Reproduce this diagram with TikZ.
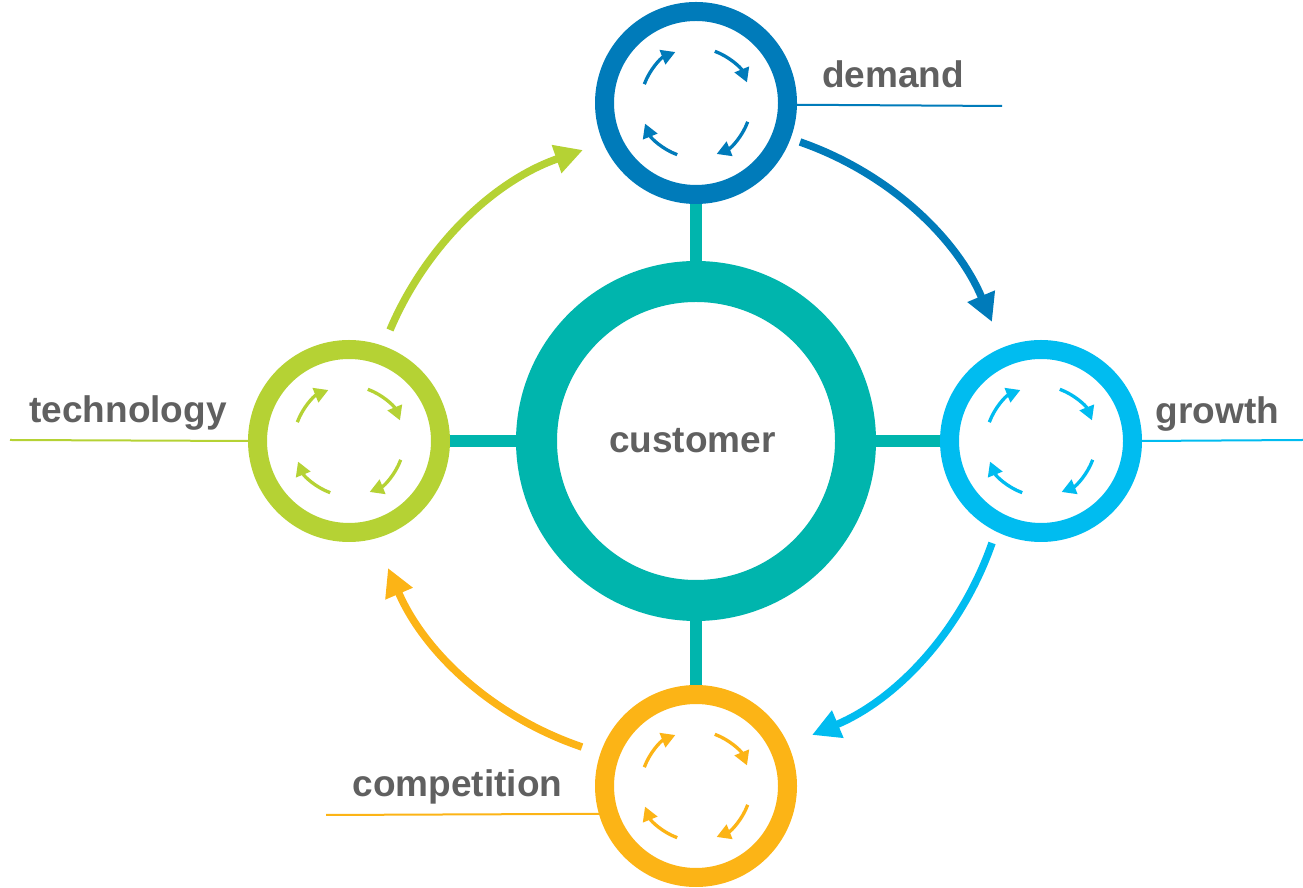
\documentclass[tikz,border=0pt]{standalone}
\usepackage{fontspec}
\setmainfont{Liberation Sans}
\usetikzlibrary{arrows.meta}
\definecolor{cblue}{RGB}{0,123,186}
\definecolor{ccyan}{RGB}{0,188,240}
\definecolor{cgreen}{RGB}{181,210,52}
\definecolor{corange}{RGB}{252,180,22}
\definecolor{cteal}{RGB}{0,181,173}
\definecolor{ctext}{RGB}{96,96,96}
\tikzset{
  sat/.style={circle, draw=#1, fill=white, line width=19pt, minimum size=183pt, inner sep=0pt},
  hub/.style={circle, draw=cteal, fill=white, line width=41pt, minimum size=319pt, inner sep=0pt},
  bar/.style={draw=cteal, line width=12pt},
  bigarrow/.style={draw=#1, line width=7.5pt, -{Triangle[length=28pt,width=28pt]}},
  smallarrow/.style={draw=#1, line width=3.3pt, -{Triangle[length=14pt,width=15pt]}},
  lbl/.style={anchor=base, text=ctext, font=\fontsize{37}{44}\selectfont\bfseries, inner sep=0pt},
  uline/.style={draw=#1, line width=2pt},
}
\begin{document}
\begin{tikzpicture}[x=1pt,y=1pt]
\useasboundingbox (0,0) rectangle (1303,888);
% nodes
\node[hub] (C) at (696,447) {};
\node[sat=cblue] (D) at (696,785) {};
\node[sat=ccyan] (G) at (1041,447) {};
\node[sat=cgreen] (T) at (349,447) {};
\node[sat=corange] (K) at (696,102) {};
% bars
\draw[bar] (C) -- (D);
\draw[bar] (C) -- (G);
\draw[bar] (C) -- (T);
\draw[bar] (C) -- (K);
% labels
\node[lbl] (lc) at (692.5,435) {customer};
\node[lbl] (ld) at (893,800) {demand};
\node[lbl] (lg) at (1217.5,464) {growth};
\node[lbl] (lt) at (128,465) {technology};
\node[lbl] (lk) at (457.5,91) {competition};
% underlines
\coordinate (ud) at (1002,782);
\coordinate (ug) at (1303,448);
\coordinate (ut) at (10,448);
\coordinate (uk) at (326,73);
\draw[uline=cblue] (D.-1.7) -- (ud);
\draw[uline=ccyan] (G.east) -- (ug);
\draw[uline=cgreen] (ut) -- (T.west);
\draw[uline=corange] (uk) -- (K.196.7);
% big arrows
\coordinate (b1) at (800,746); \coordinate (b2) at (992,566);
\coordinate (c1) at (992,345); \coordinate (c2) at (812,153);
\coordinate (o1) at (582,141); \coordinate (o2) at (388,320);
\coordinate (g1) at (390,558); \coordinate (g2) at (583,738);
\draw[bigarrow=cblue] (b1) to[bend left=24, looseness=0.9] (b2);
\draw[bigarrow=ccyan] (c1) to[bend left=24, looseness=0.9] (c2);
\draw[bigarrow=corange] (o1) to[bend left=24, looseness=0.9] (o2);
\draw[bigarrow=cgreen] (g1) to[bend left=24, looseness=0.9] (g2);
% small arrows
\foreach \n/\c in {D/cblue, G/ccyan, T/cgreen, K/corange}{
  \foreach \a [evaluate=\a as \s using \a+70, evaluate=\a as \e using \a+22] in {0,90,180,270}{
    \draw[smallarrow=\c] (\n.center) ++(\s:55) arc[start angle=\s, end angle=\e, radius=55];
  }
}
\end{tikzpicture}
\end{document}
